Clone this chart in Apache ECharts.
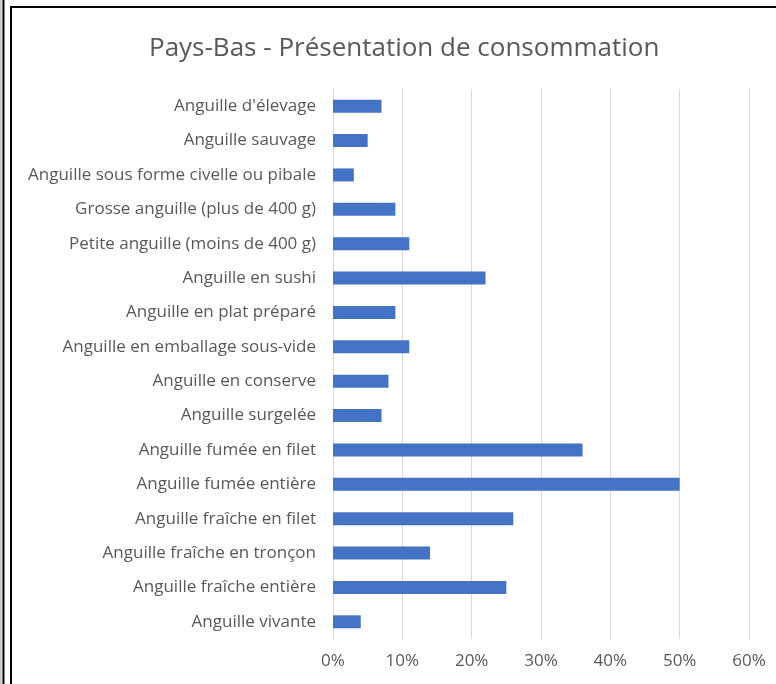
<!DOCTYPE html>
<html>
<head>
<meta charset="utf-8">
<script src="https://cdn.jsdelivr.net/npm/echarts@6/dist/echarts.min.js"></script>
<style>
html, body { margin: 0; padding: 0; background: #fff; }
#chart { width: 776px; height: 684px; }
</style>
</head>
<body>
<div id="chart"></div>
<script>
// categories, bottom to top (as the y axis draws them)
const categories = [
    'Anguille vivante',
    'Anguille fraîche entière',
    'Anguille fraîche en tronçon',
    'Anguille fraîche en filet',
    'Anguille fumée entière',
    'Anguille fumée en filet',
    'Anguille surgelée',
    'Anguille en conserve',
    'Anguille en emballage sous-vide',
    'Anguille en plat préparé',
    'Anguille en sushi',
    'Petite anguille (moins de 400 g)',
    'Grosse anguille (plus de 400 g)',
    'Anguille sous forme civelle ou pibale',
    'Anguille sauvage',
    "Anguille d'élevage"
];
const values = [0.04, 0.25, 0.14, 0.26, 0.50, 0.36, 0.07, 0.08, 0.11, 0.09, 0.22, 0.11, 0.09, 0.03, 0.05, 0.07];

const labelColor = '#595959';
const gridColor = '#d9d9d9';
const barColor = '#4472c4';
const font = '"Open Sans", "Noto Sans", sans-serif';

let myChart = echarts.init(document.getElementById('chart'));
myChart.setOption({
    animation: false,
    title: {
        text: 'Pays-Bas - Présentation de consommation',
        left: 144,
        top: 31,
        textStyle: { color: labelColor, fontSize: 26, fontWeight: 'normal', fontFamily: font }
    },
    grid: { left: 333, right: 27, top: 89, bottom: 45, containLabel: false },
    xAxis: {
        type: 'value',
        min: 0,
        max: 0.6,
        interval: 0.1,
        axisLine: { show: false },
        axisTick: { show: false },
        splitLine: { lineStyle: { color: gridColor, width: 1 } },
        axisLabel: {
            color: labelColor,
            fontSize: 17,
            fontFamily: font,
            margin: 14,
            formatter: v => Math.round(v * 100) + '%'
        }
    },
    yAxis: {
        type: 'category',
        data: categories,
        axisTick: { show: false },
        axisLine: { lineStyle: { color: gridColor, width: 1 } },
        axisLabel: { color: labelColor, fontSize: 17, fontFamily: font, margin: 17 }
    },
    series: [{
        type: 'bar',
        data: values,
        barWidth: 13,
        itemStyle: { color: barColor }
    }],
    graphic: [
        // outer frame lines
        { type: 'line', shape: { x1: 1, y1: 0, x2: 1, y2: 684 }, style: { stroke: '#999', lineWidth: 1 } },
        { type: 'line', shape: { x1: 3.5, y1: 0, x2: 3.5, y2: 684 }, style: { stroke: '#000', lineWidth: 2 } },
        // chart box
        { type: 'line', shape: { x1: 11, y1: 7, x2: 11, y2: 684 }, style: { stroke: '#000', lineWidth: 2 } },
        { type: 'line', shape: { x1: 10, y1: 7, x2: 776, y2: 7 }, style: { stroke: '#000', lineWidth: 2 } }
    ]
});
</script>
</body>
</html>
